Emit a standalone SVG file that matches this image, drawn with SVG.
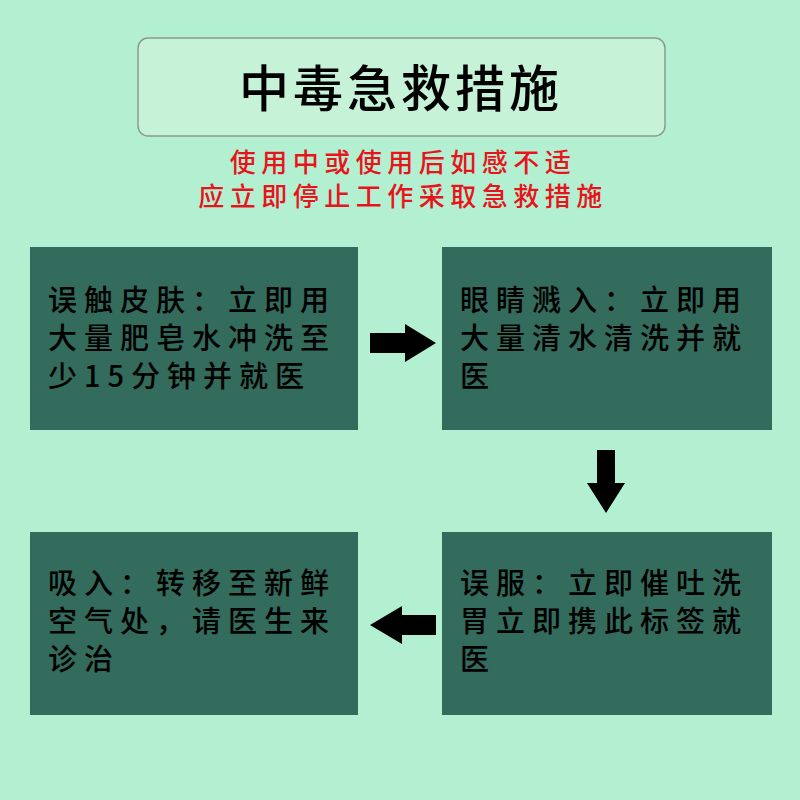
<svg xmlns="http://www.w3.org/2000/svg" width="800" height="800" viewBox="0 0 800 800">
<style>
.t{font-family:"Noto Sans CJK SC","Noto Sans",sans-serif;font-size:29px;font-weight:500;fill:#000;letter-spacing:7px}
.r{font-family:"Noto Sans CJK SC",sans-serif;font-size:26px;font-weight:500;fill:#e8141c;text-anchor:middle;letter-spacing:5.5px}
.b{fill:#336b5c}
</style>
<rect width="800" height="800" fill="#b3f0d2"/>
<g id="title"><rect x="138" y="38" width="527" height="98" rx="10" fill="#c6f2d8" stroke="#8a9a90" stroke-width="1.5"/>
<text x="401" y="107" font-family="Noto Sans CJK SC,sans-serif" font-size="50" font-weight="500" text-anchor="middle" letter-spacing="4">中毒急救措施</text></g>
<g id="note"><text class="r" x="403" y="172">使用中或使用后如感不适</text><text class="r" x="403" y="206">应立即停止工作采取急救措施</text></g>
<g id="n1"><rect class="b" x="30" y="247" width="328" height="183"/>
<text class="t" x="48" y="311">误触皮肤：立即用</text><text class="t" x="48" y="349">大量肥皂水冲洗至</text><text class="t" x="48" y="387">少15分钟并就医</text></g>
<g id="n2"><rect class="b" x="442" y="247" width="330" height="183"/>
<text class="t" x="460" y="311">眼睛溅入：立即用</text><text class="t" x="460" y="349">大量清水清洗并就</text><text class="t" x="460" y="387">医</text></g>
<g id="n3"><rect class="b" x="442" y="532" width="330" height="183"/>
<text class="t" x="460" y="594">误服：立即催吐洗</text><text class="t" x="460" y="632">胃立即携此标签就</text><text class="t" x="460" y="670">医</text></g>
<g id="n4"><rect class="b" x="30" y="532" width="328" height="183"/>
<text class="t" x="48" y="594">吸入：转移至新鲜</text><text class="t" x="48" y="632">空气处，请医生来</text><text class="t" x="48" y="670">诊治</text></g>
<g id="connectors" fill="#000">
<polygon points="370,333 405,333 405,324 436,343 405,362 405,353 370,353"/>
<polygon points="597,450 615,450 615,483 625,483 606,513 587,483 597,483"/>
<polygon points="436,615 402,615 402,606 370,625 402,644 402,635 436,635"/>
</g>
</svg>
